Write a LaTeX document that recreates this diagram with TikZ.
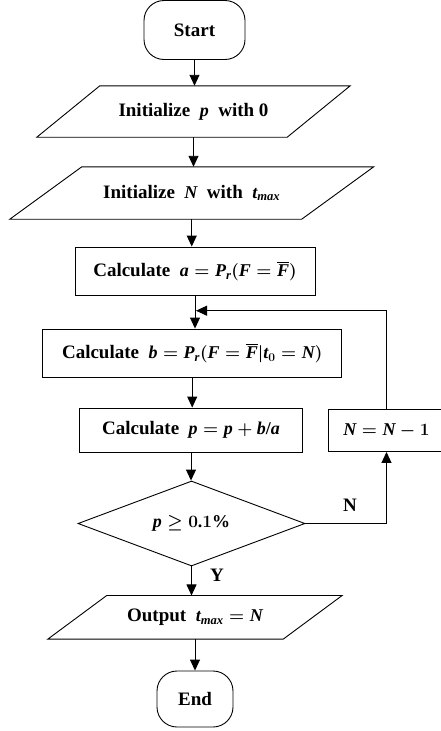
\documentclass[tikz,border=0pt]{standalone}
\usepackage{amsmath}
\usepackage{fontspec}
\setmainfont{Liberation Serif}
\newfontfamily\mathletterfont[NFSSFamily=libser]{Liberation Serif}
\DeclareSymbolFont{letters}{TU}{libser}{m}{it}
\SetSymbolFont{letters}{bold}{TU}{libser}{b}{it}
\SetSymbolFont{operators}{bold}{TU}{libser}{b}{n}
\AtBeginDocument{\mathcode`\/="002F \mathcode`\.="002E}
\usetikzlibrary{arrows.meta,shapes.geometric}
\newcommand\paragram[2]{\draw[line] ([xshift=#2]#1.north west) -- ([xshift=#2]#1.north east) -- ([xshift=-#2]#1.south east) -- ([xshift=-#2]#1.south west) -- cycle;}
\newcommand\mth[1]{{\fontsize{18}{21}\selectfont\boldmath$#1$}}
\begin{document}
\begin{tikzpicture}[x=1pt,y=-1pt,
  line/.style={draw=black, line width=0.9pt},
  arr/.style={line, -{Triangle[width=10pt,length=11pt]}},
  txt/.style={font=\fontsize{19}{22}\selectfont\bfseries\boldmath, inner sep=0pt, align=center},
  term/.style={txt, line, rounded corners=20pt},
  proc/.style={txt, line},
  para/.style={txt},
  dec/.style={txt, line, shape=diamond, aspect=2.67},
  lab/.style={font=\fontsize{19}{22}\selectfont\bfseries, inner sep=0pt}]
\useasboundingbox (0,0) rectangle (440,731);
\node[term, minimum width=101pt, minimum height=59pt] (start) at (194.5,30) {Start};
\node[para, minimum width=250pt, minimum height=51pt] (ip) at (193.5,111.5) {Initialize~ \mth{p} ~with 0};
\paragram{ip}{31.5pt}
\node[para, minimum width=291.5pt, minimum height=52pt] (iN) at (191.75,193) {Initialize~ \mth{N} ~with~ \mth{t_{max}}};
\paragram{iN}{36pt}
\node[proc, minimum width=240pt, minimum height=48pt] (ca) at (195,271) {Calculate~ \mth{a = P_r(F = \overline{F})}};
\node[proc, minimum width=299pt, minimum height=48pt] (cb) at (192.2,353) {Calculate~ \mth{b = P_r(F = \overline{F}|t_{\mathbf{0}} = N)}};
\node[proc, minimum width=223pt, minimum height=44pt] (cp) at (191,430) {Calculate~ \mth{p = p + b/a}};
\node[proc, minimum width=117pt, minimum height=42pt] (nb) at (386.5,430.5) {\mth{N = N - \mathbf{1}}};
\node[dec, minimum width=227pt, minimum height=85pt] (cond) at (191.5,523.5) {\mth{p \geq \mathbf{0.1\%}}};
\node[para, minimum width=235pt, minimum height=43.3pt] (out) at (195,617.3) {Output~ \mth{t_{max} = N}};
\paragram{out}{29.5pt}
\node[term, minimum width=76pt, minimum height=56pt] (end) at (195,699) {End};
\node[lab] (nlab) at (350,505) {N};
\node[lab] (ylab) at (217,575) {Y};
\coordinate (merge) at (196,310.7);
\draw[arr] (start.south) -- (start.south |- ip.north);
\draw[arr] (ip.south) -- (ip.south |- iN.north);
\draw[arr] (iN.south) -- (iN.south |- ca.north);
\draw[arr] (ca.south) -- (ca.south |- cb.north);
\draw[arr] (nb.north) |- (merge);
\draw[arr] (cb.south) -- (cb.south |- cp.north);
\draw[arr] (cp.south) -- (cp.south |- cond.north);
\draw[arr] (cond.south) -- (cond.south |- out.north);
\draw[arr] (cond.east) -| (nb.south);
\draw[arr] (out.south) -- (out.south |- end.north);
\end{tikzpicture}
\end{document}
